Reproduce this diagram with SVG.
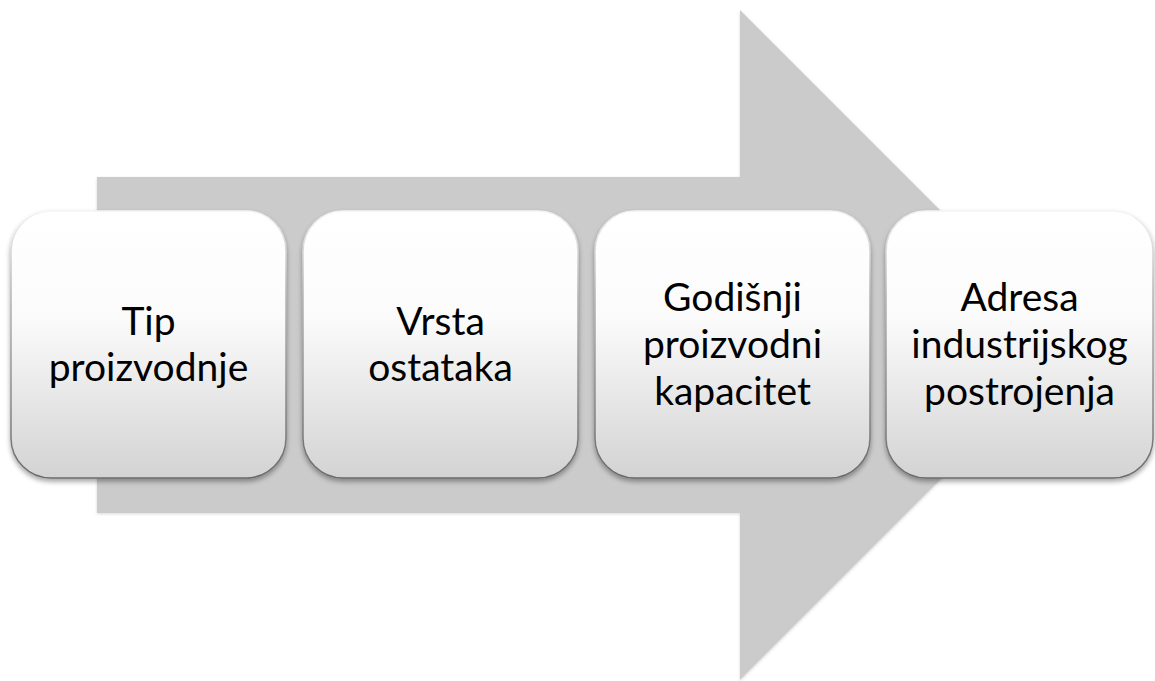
<svg xmlns="http://www.w3.org/2000/svg" width="1155" height="681" viewBox="0 0 1155 681">
  <defs>
    <linearGradient id="boxFill" x1="0" y1="0" x2="0" y2="1">
      <stop offset="0" stop-color="#ffffff"/>
      <stop offset="0.4" stop-color="#fbfbfb"/>
      <stop offset="1" stop-color="#d3d3d3"/>
    </linearGradient>
    <linearGradient id="boxStroke" x1="0" y1="0" x2="0" y2="1">
      <stop offset="0" stop-color="#f4f4f4"/>
      <stop offset="0.3" stop-color="#b8b8b8"/>
      <stop offset="1" stop-color="#6a6a6a"/>
    </linearGradient>
    <filter id="boxShadow" x="-10%" y="-10%" width="120%" height="125%">
      <feDropShadow dx="0" dy="3" stdDeviation="2.5" flood-color="#000" flood-opacity="0.35"/>
    </filter>
    <filter id="arrowShadow" x="-5%" y="-5%" width="110%" height="110%">
      <feDropShadow dx="0" dy="1" stdDeviation="1.5" flood-color="#000" flood-opacity="0.15"/>
    </filter>
  </defs>
  <style>
    .box { fill: url(#boxFill); stroke: url(#boxStroke); stroke-width: 1.5; filter: url(#boxShadow); }
    .lbl { font-family: Lato, "Liberation Sans", sans-serif; font-size: 39px; fill: #000; text-anchor: middle; }
  </style>
  <rect width="1155" height="681" fill="#ffffff"/>
  <g id="connectors">
    <path id="bigArrow" d="M97,177 L740,177 L740,10 L1075,345 L740,680 L740,513 L97,513 Z" fill="#cbcbcb" filter="url(#arrowShadow)"/>
  </g>
  <g id="node1">
    <rect class="box" x="11" y="211" width="275" height="267" rx="40" ry="40"/>
    <text class="lbl" x="148.5" y="335">Tip</text>
    <text class="lbl" x="148.5" y="381">proizvodnje</text>
  </g>
  <g id="node2">
    <rect class="box" x="303" y="211" width="275" height="267" rx="40" ry="40"/>
    <text class="lbl" x="440.5" y="335">Vrsta</text>
    <text class="lbl" x="440.5" y="381">ostataka</text>
  </g>
  <g id="node3">
    <rect class="box" x="595" y="211" width="275" height="267" rx="40" ry="40"/>
    <text class="lbl" x="732.5" y="311">Godišnji</text>
    <text class="lbl" x="732.5" y="358">proizvodni</text>
    <text class="lbl" x="732.5" y="405">kapacitet</text>
  </g>
  <g id="node4">
    <rect class="box" x="886" y="211" width="267" height="267" rx="40" ry="40"/>
    <text class="lbl" x="1019.5" y="311">Adresa</text>
    <text class="lbl" x="1019.5" y="358">industrijskog</text>
    <text class="lbl" x="1019.5" y="405">postrojenja</text>
  </g>
</svg>
